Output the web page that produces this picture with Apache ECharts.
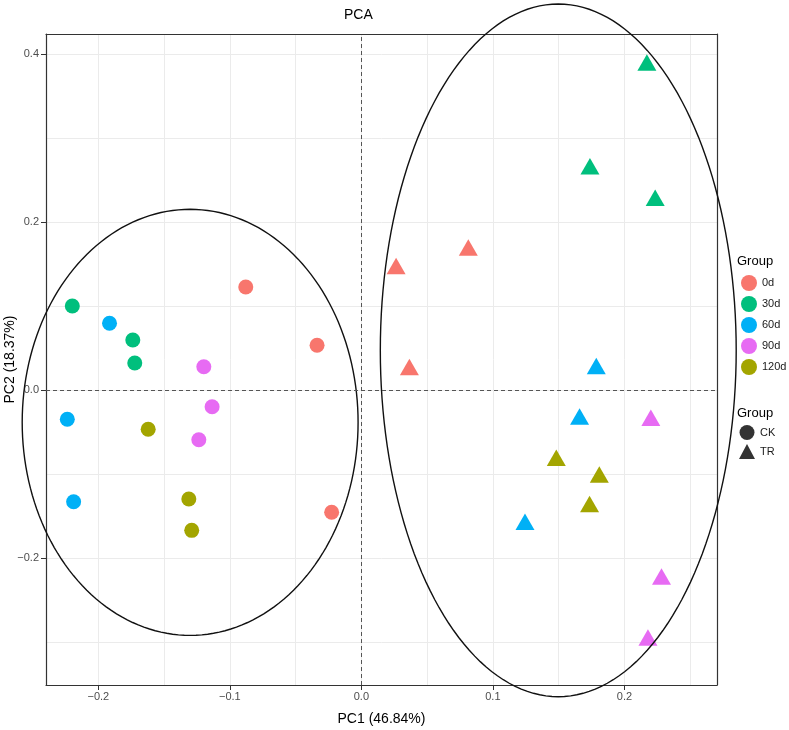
<!DOCTYPE html>
<html>
<head>
<meta charset="utf-8">
<script src="https://cdn.jsdelivr.net/npm/echarts@6/dist/echarts.min.js"></script>
<style>html,body{margin:0;padding:0;background:#fff;}#chart{width:789px;height:730px;}</style>
</head>
<body>
<div id="chart"></div>
<script>
// ---- data ----
const groups = ['0d', '30d', '60d', '90d', '120d'];
const groupColors = ['#F8766D', '#00BF7D', '#00B0F6', '#E76BF3', '#A3A500'];
const treatments = ['CK', 'TR'];

const ck_0d   = [[-0.0879, 0.1230], [-0.0337, 0.0536], [-0.0226, -0.1452]];
const ck_30d  = [[-0.2198, 0.1004], [-0.1738, 0.0599], [-0.1723, 0.0325]];
const ck_60d  = [[-0.1915, 0.0798], [-0.2236, -0.0345], [-0.2188, -0.1326]];
const ck_90d  = [[-0.1198, 0.0281], [-0.1135, -0.0195], [-0.1236, -0.0588]];
const ck_120d = [[-0.1621, -0.0464], [-0.1312, -0.1294], [-0.1290, -0.1667]];

const tr_0d   = [[0.0813, 0.1701], [0.0264, 0.1481], [0.0365, 0.0279]];
const tr_30d  = [[0.2171, 0.3904], [0.1738, 0.2668], [0.2234, 0.2293]];
const tr_60d  = [[0.1786, 0.0289], [0.1659, -0.0312], [0.1244, -0.1564]];
const tr_90d  = [[0.2201, -0.0327], [0.2282, -0.2215], [0.2179, -0.2942]];
const tr_120d = [[0.1482, -0.0802], [0.1809, -0.1002], [0.1735, -0.1354]];

// ellipse: [centerX, centerY, radiusX, radiusY]
const ellipseCK = [-0.1302, -0.0381, 0.1277, 0.2536];
const ellipseTR = [0.1497, 0.0476, 0.1353, 0.4123];

const xTickValues = [-0.2, -0.1, 0.0, 0.1, 0.2];
const yTickValues = [-0.2, 0.0, 0.2, 0.4];
const xRange = [-0.2398, 0.2704];
const yRange = [-0.3508, 0.4242];

const ckData = [ck_0d, ck_30d, ck_60d, ck_90d, ck_120d];
const trData = [tr_0d, tr_30d, tr_60d, tr_90d, tr_120d];

// ---- chart ----
const FONT = '"Liberation Sans", Arial, Helvetica, sans-serif';
const fmt = v => (Math.abs(v) < 1e-9 ? 0 : v).toFixed(1).replace('-', '\u2212');
const BORDER = {show: true, onZero: false, lineStyle: {color: '#333', width: 1.2}};

const chart = echarts.init(document.getElementById('chart'), null, {renderer: 'canvas'});

const series = groups.map((g, i) => ({
  name: g,
  type: 'scatter',
  z: 3,
  itemStyle: {color: groupColors[i], opacity: 1},
  data: ckData[i].map(p => ({value: p, symbol: 'circle', symbolSize: 15}))
    .concat(trData[i].map(p => ({value: p, symbol: 'triangle', symbolSize: [19, 16.5]}))),
  emphasis: {disabled: true}
}));

series.push({
  name: 'CK', type: 'scatter', data: [], symbol: 'circle', itemStyle: {color: '#000'}
});
series.push({
  name: 'TR', type: 'scatter', data: [], symbol: 'triangle', itemStyle: {color: '#000'}
});

// reference lines
series.push({
  name: 'ref', type: 'scatter', data: [], z: 2, silent: true,
  markLine: {
    silent: true, symbol: ['none', 'none'], label: {show: false},
    lineStyle: {type: [4, 3], color: '#555', width: 1},
    data: [{xAxis: 0}, {yAxis: 0}],
    animation: false
  }
});

// ellipses
series.push({
  name: 'ellipses', type: 'custom', z: 4, silent: true, clip: false,
  data: [ellipseCK, ellipseTR],
  renderItem: function (params, api) {
    const cx = api.value(0), cy = api.value(1), rx = api.value(2), ry = api.value(3);
    const pts = [];
    const n = 180;
    for (let k = 0; k <= n; k++) {
      const t = k / n * Math.PI * 2;
      pts.push(api.coord([cx + rx * Math.cos(t), cy + ry * Math.sin(t)]));
    }
    return {
      type: 'polyline',
      shape: {points: pts},
      style: {stroke: '#111', lineWidth: 1.4, fill: null}
    };
  }
});

const gridAxisCommon = {
  type: 'value',
  axisLine: BORDER,
  axisTick: {show: false},
  axisLabel: {show: false},
  splitLine: {show: true, lineStyle: {color: '#EBEBEB', width: 1}}
};

const option = {
  animation: false,
  backgroundColor: '#fff',
  textStyle: {fontFamily: FONT},
  title: [
    {text: 'PCA', left: 344, top: 8, padding: 0,
     textStyle: {fontSize: 14, fontWeight: 'normal', color: '#000', fontFamily: FONT}},
    {text: 'Group', left: 737, top: 255, padding: 0,
     textStyle: {fontSize: 13, fontWeight: 'normal', color: '#000', fontFamily: FONT}},
    {text: 'Group', left: 737, top: 407, padding: 0,
     textStyle: {fontSize: 13, fontWeight: 'normal', color: '#000', fontFamily: FONT}}
  ],
  legend: [
    {
      orient: 'vertical', left: 741, top: 275, padding: 0,
      itemWidth: 16, itemHeight: 16, itemGap: 5, itemTextGap: 4,
      selectedMode: false,
      textStyle: {fontSize: 11, color: '#1a1a1a', fontFamily: FONT},
      data: groups.map(g => ({name: g, icon: 'circle'}))
    },
    {
      orient: 'vertical', left: 739, top: 425, padding: 0,
      itemWidth: 16, itemHeight: 15, itemGap: 4, itemTextGap: 6,
      selectedMode: false,
      textStyle: {fontSize: 11, color: '#1a1a1a', fontFamily: FONT},
      data: [{name: 'CK', icon: 'circle'}, {name: 'TR', icon: 'triangle'}]
    }
  ],
  grid: {
    left: 46, top: 34, width: 671, height: 651,
    show: false, containLabel: false, outerBoundsMode: 'none'
  },
  xAxis: [
    {
      type: 'value', min: xRange[0], max: xRange[1], position: 'bottom',
      name: 'PC1 (46.84%)', nameLocation: 'middle', nameGap: 27, nameMoveOverlap: false,
      nameTextStyle: {fontSize: 14, color: '#000', fontFamily: FONT},
      axisLine: BORDER,
      axisTick: {show: true, length: 5, lineStyle: {color: '#333'}, customValues: xTickValues},
      axisLabel: {fontSize: 11, color: '#4D4D4D', margin: 6, customValues: xTickValues,
                  formatter: fmt, fontFamily: FONT},
      splitLine: {show: false}
    },
    Object.assign({}, gridAxisCommon, {
      min: xRange[0], max: xRange[1], position: 'top',
      minInterval: 0.05, maxInterval: 0.05, splitNumber: 10
    })
  ],
  yAxis: [
    {
      type: 'value', min: yRange[0], max: yRange[1], position: 'left',
      name: 'PC2 (18.37%)', nameLocation: 'middle', nameGap: 29, nameMoveOverlap: false,
      nameTextStyle: {fontSize: 14, color: '#000', fontFamily: FONT},
      axisLine: BORDER,
      axisTick: {show: true, length: 5, lineStyle: {color: '#333'}, customValues: yTickValues},
      axisLabel: {fontSize: 11, color: '#4D4D4D', margin: 7, customValues: yTickValues,
                  formatter: fmt, fontFamily: FONT},
      splitLine: {show: false}
    },
    Object.assign({}, gridAxisCommon, {
      min: yRange[0], max: yRange[1], position: 'right',
      minInterval: 0.1, maxInterval: 0.1, splitNumber: 8
    })
  ],
  series: series
};

chart.setOption(option);
</script>
</body>
</html>
